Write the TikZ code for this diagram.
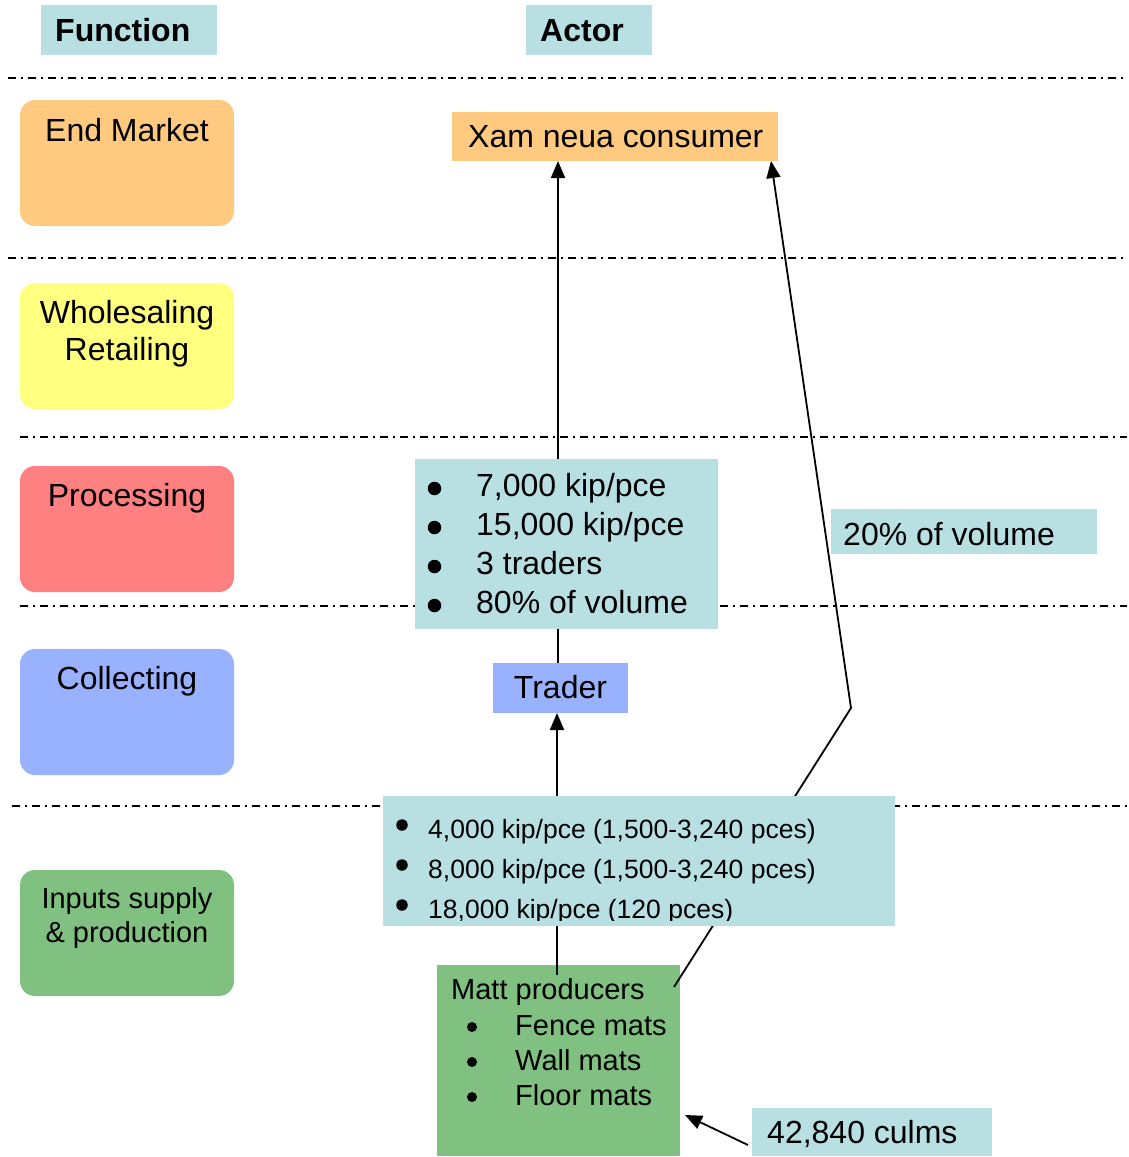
\documentclass[tikz,border=0pt]{standalone}
\usepackage{fontspec}
\setmainfont{Liberation Sans}
\usetikzlibrary{arrows.meta}

\definecolor{paleblue}{RGB}{184,224,227}
\definecolor{mktorange}{RGB}{255,201,128}
\definecolor{whyellow}{RGB}{255,255,128}
\definecolor{procred}{RGB}{255,128,128}
\definecolor{collblue}{RGB}{153,178,255}
\definecolor{prodgreen}{RGB}{128,192,128}

\pgfdeclarelayer{base}
\pgfdeclarelayer{wires}
\pgfsetlayers{base,wires,main}

\begin{document}
\begin{tikzpicture}[x=1pt,y=-1pt,
  tier/.style={line width=1.5pt, dash pattern=on 8pt off 5pt on 2pt off 5pt},
  panel/.style={inner sep=0pt, outer sep=0pt, anchor=north west},
  funcbox/.style={panel, rounded corners=15pt, minimum width=214pt, minimum height=126pt},
  hdr/.style={font=\bfseries\fontsize{32}{38}\selectfont, inner sep=0pt},
  big/.style={font=\fontsize{32}{38}\selectfont, inner sep=0pt},
  midsize/.style={font=\fontsize{29}{34}\selectfont, inner sep=0pt},
  smallsize/.style={font=\fontsize{26.5}{40}\selectfont, inner sep=0pt},
  dotmark/.style={circle, fill=black, inner sep=0pt, outer sep=0pt, minimum size=#1},
  link/.style={line width=1.8pt},
  tip/.style={-{Triangle[length=17pt,width=14pt]}}
]
\useasboundingbox (0,0) rectangle (1129,1157);

% ---------- tier separators, function column, producer box ----------
\begin{pgfonlayer}{base}
  \foreach \y/\a/\b in {78/8/1125, 258/8/1125, 437/20/1127, 606/20/1127, 806/12/1127}
    \draw[tier] (\a,\y) -- (\b,\y);

  \node[funcbox, fill=mktorange] (fnMarket)  at (20,100) {};
  \node[funcbox, fill=whyellow]  (fnWhole)   at (20,283) {};
  \node[funcbox, fill=procred]   (fnProc)    at (20,466) {};
  \node[funcbox, fill=collblue]  (fnCollect) at (20,649) {};
  \node[funcbox, fill=prodgreen] (fnInputs)  at (20,870) {};

  \node[panel, fill=prodgreen, minimum width=243pt, minimum height=191pt] (matt) at (437,965) {};
\end{pgfonlayer}

% ---------- column headers ----------
\node[panel, fill=paleblue, minimum width=176pt, minimum height=50pt] (hdFunction) at (41,5) {};
\node[panel, fill=paleblue, minimum width=126pt, minimum height=50pt] (hdActor) at (526,5) {};
\node[hdr, anchor=base west] (hdFunctionTxt) at (55,41.5) {Function};
\node[hdr, anchor=base west] (hdActorTxt) at (540,41.5) {Actor};

% ---------- function labels ----------
\node[big, anchor=base] (fnMarketTxt) at (127,141) {End Market};
\node[big, anchor=base] (fnWholeTxt1) at (127,323) {Wholesaling};
\node[big, anchor=base] (fnWholeTxt2) at (127,360) {Retailing};
\node[big, anchor=base] (fnProcTxt) at (127,506) {Processing};
\node[big, anchor=base] (fnCollectTxt) at (127,689) {Collecting};
\node[midsize, anchor=base] (fnInputsTxt1) at (127,908) {Inputs supply};
\node[midsize, anchor=base] (fnInputsTxt2) at (127,942) {\& production};

% ---------- actors ----------
\node[panel, fill=mktorange, minimum width=326pt, minimum height=49pt] (consumer) at (452,112) {};
\node[big, anchor=base west] (consumerTxt) at (468,147) {Xam neua consumer};

\node[panel, fill=collblue, minimum width=135pt, minimum height=50pt] (trader) at (493,663) {};
\node[big, anchor=base] (traderTxt) at (560.5,698) {Trader};

\node[panel, fill=paleblue, minimum width=266pt, minimum height=45pt] (share) at (831,509) {};
\node[big, anchor=base west] (shareTxt) at (843,545) {20\% of volume};

\node[panel, fill=paleblue, minimum width=240pt, minimum height=48pt] (culms) at (752,1108) {};
\node[big, anchor=base west] (culmsTxt) at (767,1143) {42,840 culms};

% processing prices
\node[panel, fill=paleblue, minimum width=303pt, minimum height=170pt] (procBox) at (415,459) {};
\foreach \t [count=\i] in {{7,000 kip/pce},{15,000 kip/pce},{3 traders},{80\% of volume}} {
  \node[big, anchor=base west] (procL\i) at (476,{496.5+39*(\i-1)}) {\t};
  \node[dotmark=13.5pt] (procB\i) at (434.5,{488.5+39*(\i-1)}) {};
}

% mat prices (text runs past the bottom of its frame and is cut there)
\node[panel, fill=paleblue, minimum width=512pt, minimum height=130pt] (inBox) at (383,796) {};
\begin{scope}
  \clip (inBox.north west) rectangle ([yshift=6pt]inBox.south east);
  \foreach \t [count=\i] in {{4,000 kip/pce (1,500-3,240 pces)},{8,000 kip/pce (1,500-3,240 pces)},{18,000 kip/pce (120 pces)}} {
    \node[smallsize, anchor=base west] (inL\i) at (428,{838+40*(\i-1)}) {\t};
    \node[dotmark=11.5pt] (inB\i) at (402,{825+40*(\i-1)}) {};
  }
\end{scope}

% producers
\node[midsize, anchor=base west] (mattTxt) at (451,999) {Matt producers};
\foreach \t [count=\i] in {{Fence mats},{Wall mats},{Floor mats}} {
  \node[midsize, anchor=base west] (mattL\i) at (515,{1035+35*(\i-1)}) {\t};
  \node[dotmark=10pt] (mattB\i) at (472,{1027+35*(\i-1)}) {};
}

% ---------- flows ----------
\coordinate (mattTop) at (557,975);
\coordinate (mattCorner) at (674,987);
\coordinate (bend) at (851,708);
\begin{pgfonlayer}{wires}
  \draw[link, tip] (mattTop) -- (mattTop |- trader.south);
  \draw[link, tip] ([xshift=-2.5pt]trader.north) -- ([xshift=-2.5pt]trader.north |- consumer.south);
  \draw[link, tip] (mattCorner) -- (bend) -- ([xshift=-7pt]consumer.south east);
  \draw[link, tip] ([xshift=-4pt,yshift=-13pt]culms.west) -- ([xshift=5pt,yshift=-54.5pt]matt.east);
\end{pgfonlayer}
\end{tikzpicture}
\end{document}
